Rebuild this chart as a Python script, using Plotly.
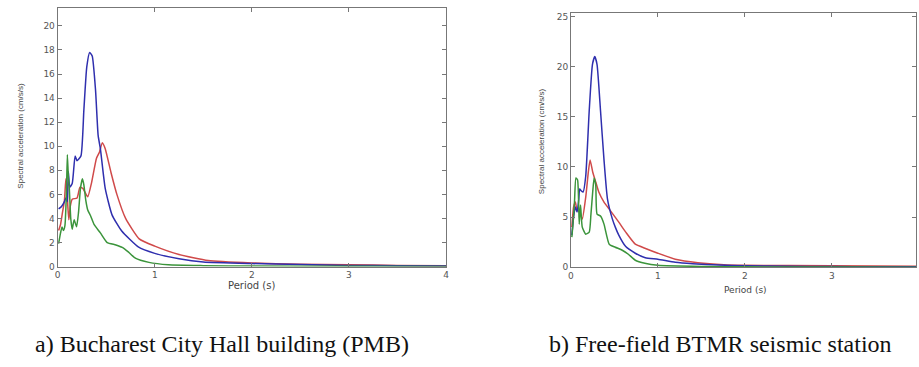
import plotly.graph_objects as go

# ---- Data: (a) Bucharest City Hall building (PMB) ----
pmb_blue_T = [0.01,0.04,0.07,0.085,0.1,0.11,0.125,0.15,0.18,0.2,0.24,0.27,0.30,0.33,0.356,0.39,0.417,0.44,0.49,0.56,0.66,0.83,1.0,1.25,1.5,2.0,2.5,3.0,3.5,4.0]
pmb_blue_A = [4.8,5.0,5.4,5.7,5.4,7.9,6.6,6.9,9.2,8.8,9.2,13.0,16.6,17.8,17.5,14.7,10.9,9.8,6.5,4.3,2.95,1.64,1.1,0.65,0.38,0.25,0.17,0.1,0.07,0.05]

pmb_red_T = [0.01,0.03,0.05,0.07,0.085,0.095,0.105,0.115,0.13,0.15,0.2,0.23,0.26,0.28,0.31,0.35,0.4,0.43,0.46,0.49,0.55,0.61,0.7,0.84,1.0,1.25,1.55,2.0,2.5,3.0,3.5,4.0]
pmb_red_A = [3.0,3.5,4.5,5.5,7.3,6.8,5.0,3.9,5.0,5.6,5.7,6.6,6.5,6.2,5.8,7.0,9.0,9.5,10.3,9.8,7.8,6.0,4.0,2.3,1.7,1.0,0.5,0.3,0.2,0.15,0.1,0.08]

pmb_green_T = [0.01,0.03,0.045,0.06,0.075,0.09,0.1,0.11,0.12,0.135,0.15,0.17,0.195,0.215,0.235,0.255,0.27,0.29,0.31,0.34,0.375,0.44,0.51,0.6,0.665,0.73,0.8,0.94,1.14,1.5,2.0,3.0,4.0]
pmb_green_A = [1.9,2.8,3.3,3.0,3.4,6.0,9.3,7.5,6.5,4.0,3.1,3.9,3.3,4.5,6.5,7.3,6.8,5.5,4.7,4.2,3.5,2.8,2.0,1.8,1.6,1.2,0.7,0.35,0.15,0.08,0.04,0.02,0.01]

# ---- Data: (b) Free-field BTMR seismic station ----
btmr_blue_T = [0.01,0.03,0.05,0.07,0.09,0.1,0.12,0.14,0.17,0.21,0.247,0.274,0.30,0.34,0.38,0.42,0.475,0.51,0.55,0.63,0.74,0.855,1.0,1.2,1.4,1.7,2.0,2.5,3.0,3.5,4.0]
btmr_blue_A = [3.2,5.0,6.0,5.5,6.8,7.8,7.6,7.5,9.1,15.6,20.2,21.0,20.2,15.6,10.7,6.8,4.85,4.0,3.2,2.06,1.4,0.95,0.8,0.5,0.35,0.22,0.15,0.1,0.07,0.05,0.04]

btmr_red_T = [0.01,0.03,0.05,0.07,0.1,0.13,0.17,0.2,0.22,0.25,0.285,0.32,0.38,0.44,0.55,0.63,0.74,0.85,1.0,1.2,1.46,1.76,2.0,3.0,4.0]
btmr_red_A = [4.0,6.0,6.5,5.7,5.5,4.8,7.0,9.5,10.7,9.5,8.5,7.5,6.5,5.8,4.5,3.5,2.3,1.9,1.4,0.8,0.45,0.25,0.2,0.15,0.1]

btmr_green_T = [0.01,0.025,0.04,0.057,0.076,0.095,0.11,0.13,0.17,0.21,0.23,0.25,0.266,0.285,0.30,0.34,0.38,0.44,0.51,0.59,0.66,0.74,0.85,1.0,1.5,2.0,3.0,4.0]
btmr_green_A = [3.0,4.5,6.4,8.9,8.7,4.3,6.2,4.0,3.3,3.5,5.3,7.5,8.9,8.2,5.3,5.1,4.3,2.3,2.0,1.7,1.3,0.7,0.4,0.2,0.08,0.04,0.02,0.01]

left_xticks = [0, 1, 2, 3, 4]
left_yticks = [0, 2, 4, 6, 8, 10, 12, 14, 16, 18, 20]
right_xticks = [0, 1, 2, 3, 4]
right_yticks = [0, 5, 10, 15, 20, 25]

BLUE = "#2f2fae"
RED = "#d04a4a"
GREEN = "#3b943b"

W, H = 919, 367
fig = go.Figure()

def add(x, y, color, xa, ya):
    fig.add_trace(go.Scatter(x=x, y=y, mode="lines", xaxis=xa, yaxis=ya,
                             line=dict(color=color, width=1.5, shape="spline", smoothing=0.5),
                             showlegend=False, hoverinfo="skip"))

add(pmb_red_T, pmb_red_A, RED, "x", "y")
add(pmb_blue_T, pmb_blue_A, BLUE, "x", "y")
add(pmb_green_T, pmb_green_A, GREEN, "x", "y")
add(btmr_red_T, btmr_red_A, RED, "x2", "y2")
add(btmr_blue_T, btmr_blue_A, BLUE, "x2", "y2")
add(btmr_green_T, btmr_green_A, GREEN, "x2", "y2")

axis_common = dict(showgrid=False, zeroline=False, showline=True, linecolor="#777", linewidth=1,
                   mirror="ticks", ticks="inside", ticklen=4, tickcolor="#777",
                   tickfont=dict(family="DejaVu Sans", size=9, color="#555"))

fig.update_layout(
    width=W, height=H, margin=dict(l=0, r=0, t=0, b=0),
    paper_bgcolor="white", plot_bgcolor="white",
    xaxis=dict(domain=[55/W, 446/W], range=[0, 4], tickvals=left_xticks, anchor="y", **axis_common),
    yaxis=dict(domain=[1-270/H, 1-7/H], range=[0, 21.5], tickvals=left_yticks, anchor="x", **axis_common),
    xaxis2=dict(domain=[571.7/W, 1.0], range=[0, (921-571.7)/88], tickvals=right_xticks, anchor="y2", **axis_common),
    yaxis2=dict(domain=[1-270.7/H, 1-12.3/H], range=[0, (270.7-12.3)/10.2], tickvals=right_yticks, anchor="x2", **axis_common),
)

def ann(text, x, y, size, family, angle=0, color="#444"):
    fig.add_annotation(text=text, x=x/W, y=1-y/H, xref="paper", yref="paper",
                       showarrow=False, textangle=angle, xanchor="center", yanchor="middle",
                       font=dict(family=family, size=size, color=color))

ann("Spectral acceleration (cm/s/s)", 18, 137, 8, "Liberation Sans", -90)
ann("Spectral acceleration (cm/s/s)", 542, 142, 8, "Liberation Sans", -90)
ann("Period (s)", 250, 289, 10, "DejaVu Sans")
ann("Period (s)", 747, 294, 9, "DejaVu Sans")
ann("a) Bucharest City Hall building (PMB)", 220, 349, 24, "Liberation Serif", color="#111")
ann("b) Free-field BTMR seismic station", 722, 349, 24, "Liberation Serif", color="#111")

fig.write_html("out.html", config={"displayModeBar": False},
               post_script="document.body.style.margin='0px';")
